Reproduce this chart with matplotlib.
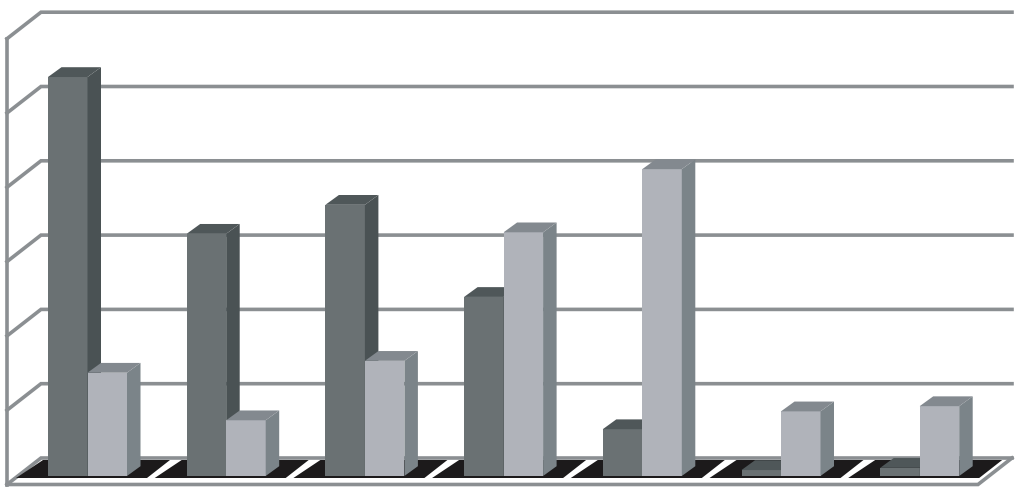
import matplotlib
matplotlib.use("Agg")
import matplotlib.pyplot as plt
from matplotlib.patches import Polygon

# values, grid step is 10
dark_vals = [53.7, 32.6, 36.5, 24.1, 6.3, 0.8, 1.1]
light_vals = [13.9, 7.5, 15.5, 32.8, 41.3, 8.7, 9.4]
grid_vals = [0, 10, 20, 30, 40, 50, 60]

DARK = ["#6a7173", "#4a5254", "#4f5759"]   # front, side, top
LIGHT = ["#b0b3ba", "#7b8489", "#83898f"]
GRID = "#8b8f92"
BLACK = "#1c1a1b"
LW = 2.6

group_px = 138.7
unit_px = 7.43
bar_w = 39.5 / group_px
dx = 13.5 / group_px
dy = 9.8 / unit_px


def px_x(p):
    return (p - 48) / group_px


def px_y(p):
    return (476 - p) / unit_px


def bar3d(ax, x, val, cols, z):
    ax.bar(x, val, bar_w, align="edge", color=cols[0], linewidth=0, zorder=z)
    side = [(x + bar_w, 0), (x + bar_w + dx, dy), (x + bar_w + dx, val + dy), (x + bar_w, val)]
    top = [(x, val), (x + dx, val + dy), (x + bar_w + dx, val + dy), (x + bar_w, val)]
    ax.add_patch(Polygon(side, closed=True, fc=cols[1], ec="none", zorder=z))
    ax.add_patch(Polygon(top, closed=True, fc=cols[2], ec="none", zorder=z))


fig = plt.figure(figsize=(10.24, 4.91), dpi=100)
ax = fig.add_axes([0, 0, 1, 1])
ax.set_xlim(px_x(0), px_x(1024))
ax.set_ylim(px_y(491), px_y(0))
ax.axis("off")

# walls
back_y = px_y(458)
left, back, right = px_x(7), px_x(41), px_x(1012)
front_y = px_y(484.5)
for g in grid_vals:
    y = back_y + g
    ax.plot([left, back, right], [y + front_y - back_y, y, y], color=GRID, lw=LW,
            solid_joinstyle="miter", zorder=1)
ax.plot([left, left], [front_y, front_y + 60], color=GRID, lw=LW, zorder=1)
ax.plot([left, px_x(978), right], [front_y, front_y, back_y], color=GRID, lw=LW,
        solid_joinstyle="miter", zorder=1)

# floor tiles
for i in range(len(dark_vals)):
    tile = [(i + px_x(16), px_y(478)), (i + px_x(43), px_y(460)),
            (i + px_x(170), px_y(460)), (i + px_x(147), px_y(478))]
    ax.add_patch(Polygon(tile, closed=True, fc=BLACK, ec="none", zorder=2))

# bars, drawn left to right so the light one covers the dark side
for i, (d, l) in enumerate(zip(dark_vals, light_vals)):
    bar3d(ax, i, d, DARK, 3 + i)
    bar3d(ax, i + bar_w, l, LIGHT, 3 + i + 0.5)

fig.savefig("out.png", dpi=100)
